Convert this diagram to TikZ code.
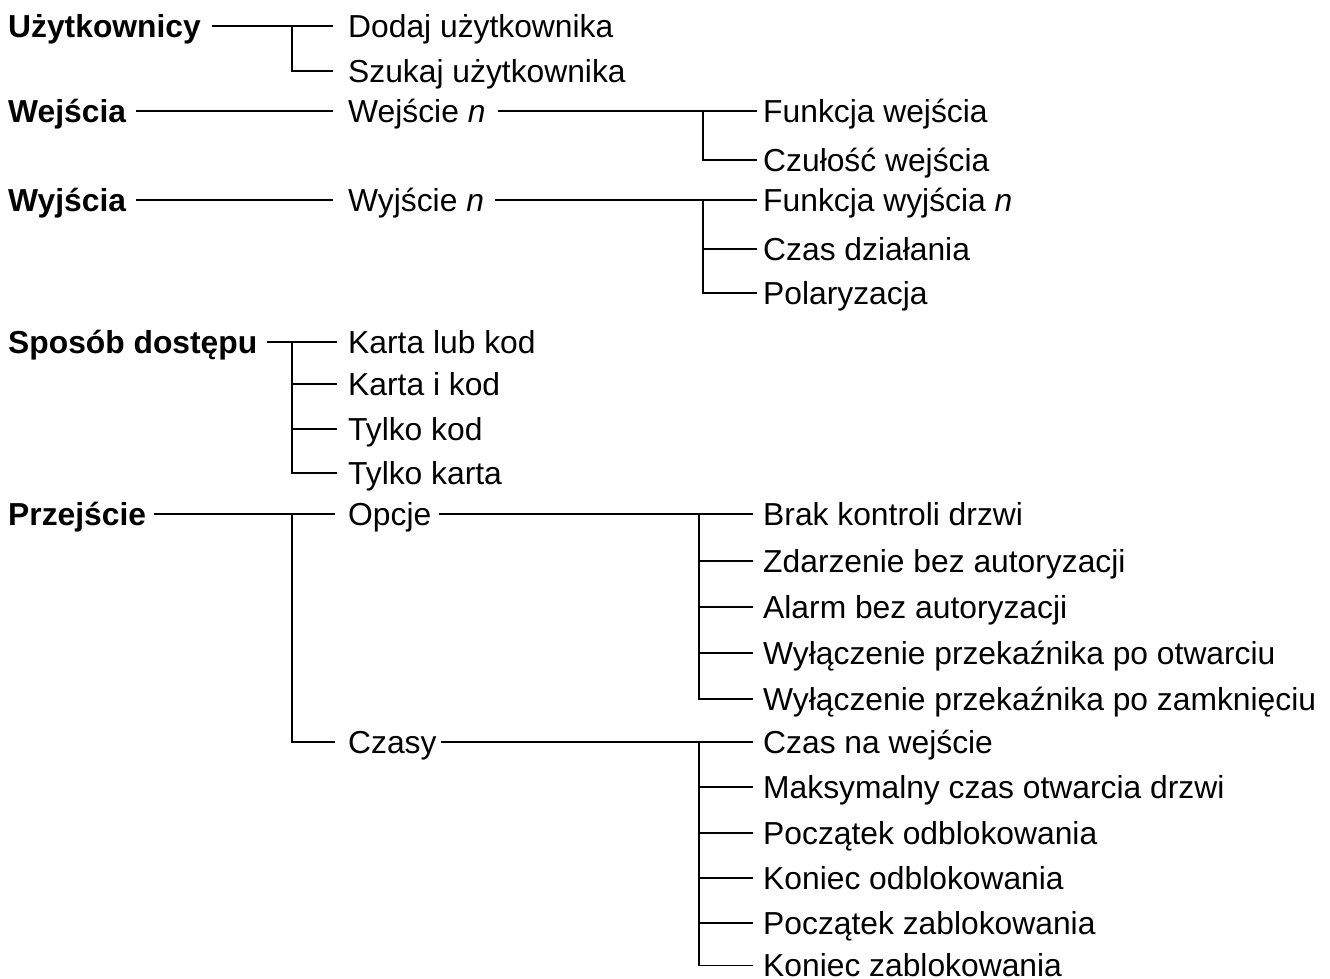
\documentclass[tikz,border=0pt]{standalone}
\usepackage{fontspec}
\setmainfont{Liberation Sans}
\begin{document}
\begin{tikzpicture}[x=1pt,y=-1pt,
  lbl/.style={anchor=west,inner sep=0pt,text height=22.8pt,text depth=0pt,font=\fontsize{31.8}{36}\selectfont},
  top/.style={lbl,font=\fontsize{31.8}{36}\selectfont\bfseries},
  conn/.style={line width=1.7pt,line join=miter}]
\useasboundingbox (0,0) rectangle (1330,978);
% level 0
\node[top] (u)  at (8,26)  {Użytkownicy};
\node[top] (we) at (8,111) {Wejścia};
\node[top] (wy) at (8,200) {Wyjścia};
\node[top] (sd) at (8,342) {Sposób dostępu};
\node[top] (pr) at (8,514) {Przejście};
% level 1
\node[lbl] (u1) at (348,26)  {Dodaj użytkownika};
\node[lbl] (u2) at (348,71)  {Szukaj użytkownika};
\node[lbl] (wen) at (348,111) {Wejście \textit{n}};
\node[lbl] (wyn) at (348,200) {Wyjście \textit{n}};
\node[lbl] (s1) at (348,342) {Karta lub kod};
\node[lbl] (s2) at (348,384) {Karta i kod};
\node[lbl] (s3) at (348,429) {Tylko kod};
\node[lbl] (s4) at (348,473) {Tylko karta};
\node[lbl] (op) at (348,514) {Opcje};
\node[lbl] (cz) at (348,742) {Czasy};
% level 2
\node[lbl] (e1) at (763,111) {Funkcja wejścia};
\node[lbl] (e2) at (763,160) {Czułość wejścia};
\node[lbl] (y1) at (763,200) {Funkcja wyjścia \textit{n}};
\node[lbl] (y2) at (763,249) {Czas działania};
\node[lbl] (y3) at (763,293) {Polaryzacja};
\node[lbl] (o1) at (763,514) {Brak kontroli drzwi};
\node[lbl] (o2) at (763,561) {Zdarzenie bez autoryzacji};
\node[lbl] (o3) at (763,607) {Alarm bez autoryzacji};
\node[lbl] (o4) at (763,653) {Wyłączenie przekaźnika po otwarciu};
\node[lbl] (o5) at (763,699) {Wyłączenie przekaźnika po zamknięciu};
\node[lbl] (c1) at (763,742) {Czas na wejście};
\node[lbl] (c2) at (763,787) {Maksymalny czas otwarcia drzwi};
\node[lbl] (c3) at (763,833) {Początek odblokowania};
\node[lbl] (c4) at (763,878) {Koniec odblokowania};
\node[lbl] (c5) at (763,923) {Początek zablokowania};
\node[lbl] (c6) at (763,965.5) {Koniec zablokowania};
% bar coordinates
\coordinate (bu) at (292,26);
\coordinate (bs) at (292,342);
\coordinate (bp) at (292,514);
\coordinate (be) at (703,111);
\coordinate (by) at (703,200);
\coordinate (bo) at (699,514);
\coordinate (bc) at (699,742);
% Użytkownicy
\draw[conn] ([xshift=11pt]u.east) -- ([xshift=-15pt]u1.west);
\draw[conn] (bu) |- ([xshift=-15pt]u2.west);
% Wejścia
\draw[conn] ([xshift=10pt]we.east) -- ([xshift=-15pt]wen.west);
\draw[conn] ([xshift=12pt]wen.east) -- ([xshift=-6pt]e1.west);
\draw[conn] (be) |- ([xshift=-6pt]e2.west);
% Wyjścia
\draw[conn] ([xshift=10pt]wy.east) -- ([xshift=-15pt]wyn.west);
\draw[conn] ([xshift=11pt]wyn.east) -- ([xshift=-6pt]y1.west);
\draw[conn] (by) |- ([xshift=-6pt]y3.west);
\draw[conn] (by |- y2.west) -- ([xshift=-6pt]y2.west);
% Sposób dostępu
\draw[conn] ([xshift=10pt]sd.east) -- ([xshift=-11pt]s1.west);
\draw[conn] (bs) |- ([xshift=-11pt]s4.west);
\draw[conn] (bs |- s2.west) -- ([xshift=-11pt]s2.west);
\draw[conn] (bs |- s3.west) -- ([xshift=-11pt]s3.west);
% Przejście
\draw[conn] ([xshift=8pt]pr.east) -- ([xshift=-13pt]op.west);
\draw[conn] (bp) |- ([xshift=-13pt]cz.west);
% Opcje
\draw[conn] ([xshift=8pt]op.east) -- ([xshift=-10pt]o1.west);
\draw[conn] (bo) |- ([xshift=-10pt]o5.west);
\foreach \n in {o2,o3,o4}
  \draw[conn] (bo |- \n.west) -- ([xshift=-10pt]\n.west);
% Czasy
\draw[conn] ([xshift=4pt]cz.east) -- ([xshift=-10pt]c1.west);
\draw[conn] (bc) |- ([xshift=-10pt]c6.west);
\foreach \n in {c2,c3,c4,c5}
  \draw[conn] (bc |- \n.west) -- ([xshift=-10pt]\n.west);
\end{tikzpicture}
\end{document}
